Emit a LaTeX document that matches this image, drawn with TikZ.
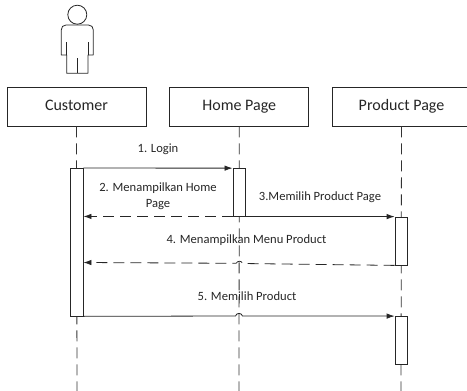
\documentclass[tikz,border=0pt]{standalone}
\usepackage{fontspec}
\setmainfont{Carlito}
\usetikzlibrary{arrows.meta}
\tikzset{
  x=1pt,y=-1pt,
  every node/.style={font=\fontsize{12.6}{16}\selectfont,text=black!85,inner sep=0pt},
  objbox/.style={draw=black!85,line width=0.8pt,fill=white,minimum width=139pt,minimum height=39pt,font=\fontsize{16}{18}\selectfont,text height=11pt,text depth=3.5pt},
  actbar/.style={draw=black!85,line width=0.8pt,fill=white,minimum width=12.5pt,inner sep=0pt},
  lifeline/.style={draw=black!80,line width=0.8pt,dash pattern=on 11pt off 6pt},
  msg/.style={draw=black!85,line width=0.8pt,-{Latex[length=8pt,width=5.5pt]}},
  ret/.style={msg,dash pattern=on 11pt off 6pt},
  actor/.style={draw=black!85,line width=0.8pt,fill=none,line join=round}
}
\begin{document}
\begin{tikzpicture}
\useasboundingbox (0,0) rectangle (467,391);
\clip (0,0) rectangle (467,391);
% message labels
\node (t1) at (158,149) {1. Login};
\node[align=center] (t2) at (158,196.5) {2. Menampilkan Home\\Page};
\node (t3) at (320,197) {3.Memilih Product Page};
\node (t4) at (246.5,240) {4. Menampilkan Menu Product};
\node (t5) at (247,296) {5. Memilih Product};
% lifelines
\coordinate (e1) at (77,391);
\coordinate (e2) at (239,391);
\coordinate (e3) at (401,391);
\node[objbox] (customer) at (76.5,106.5) {Customer};
\node[objbox] (home) at (239.3,106.5) {Home Page};
\node[objbox] (product) at (401.5,106.5) {Product Page};
\draw[lifeline] (customer.south) -- (e1);
\draw[lifeline] (home.south) -- (e2);
\draw[lifeline] (product.south) -- (e3);
% activations
\node[actbar,minimum height=147.5pt] (a1) at (76.8,242.2) {};
\node[actbar,minimum height=47.5pt] (a2) at (239.2,192.3) {};
\node[actbar,minimum height=48pt] (a3) at (401.3,241) {};
\node[actbar,minimum height=48pt] (a4) at (401.3,340.5) {};
% actor
\draw[actor] (77.3,14.7) circle (9.5);
\draw[actor] (66.7,73.3) -- (66.7,55) -- (61.3,55) -- (61.3,30)
  .. controls (61.3,27) and (63,25) .. (66,25) -- (88.5,25)
  .. controls (91.5,25) and (93.3,27) .. (93.3,30) -- (93.3,55) -- (88,55) -- (88,73.3) -- cycle;
\draw[actor] (66.7,42.3) -- (66.7,55);
\draw[actor] (88,42.3) -- (88,55);
\draw[actor] (77.3,58.3) -- (77.3,73.3);
% messages
\draw[msg] (a1.north east) -- (a2.north west);
\draw[ret] (a2.south west) -- (a1.east |- a2.south west);
\draw[msg] (a2.south east) -- (a3.north west);
\draw[ret] (a3.south west) -- (242.5,263.5) .. controls (241.5,260.5) and (238,260.5) .. (236,263.3) -- (a1.east |- 0,262.5);
\draw[msg] (a1.south east) -- (235.5,316) .. controls (236.5,312.5) and (241.5,312.5) .. (242.5,316) -- (a4.north west);
\end{tikzpicture}
\end{document}
